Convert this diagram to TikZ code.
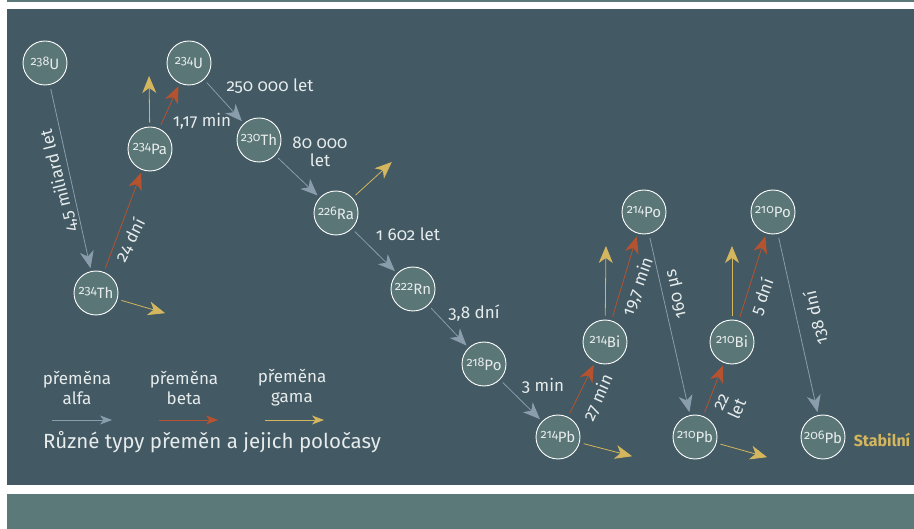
\documentclass[tikz,border=0pt]{standalone}
\usepackage{fontspec}
\setmainfont[Numbers=OldStyle]{Fira Sans}
\usetikzlibrary{arrows.meta}
\definecolor{bgdark}{HTML}{435963}
\definecolor{bgband}{HTML}{5B7979}
\definecolor{nucfill}{HTML}{5A7676}
\definecolor{alfacol}{HTML}{8A9DAC}
\definecolor{betacol}{HTML}{B5522F}
\definecolor{gamacol}{HTML}{D3B65E}
\definecolor{txtcol}{HTML}{E6EBEC}
\newcommand{\iso}[2]{\raisebox{4pt}{\fontsize{12.5}{12.5}\selectfont #1}{\fontsize{15}{15}\selectfont #2}}
\tikzstyle{nuclide}=[%
	draw=white,
	line width=0.9pt,
	circle,
	fill=nucfill,
	minimum size=44pt,
	inner sep=0pt,
	text=txtcol,
	]
\tikzstyle{decay}=[line width=0.8pt, shorten >=3pt, shorten <=4pt, -{Stealth[length=17pt,width=14pt,inset=5pt]}]
\tikzstyle{alfa}=[decay, draw=alfacol]
\tikzstyle{beta}=[decay, draw=betacol]
\tikzstyle{gama}=[decay, draw=gamacol]
\tikzstyle{legarrow}=[line width=0.8pt, -{Stealth[length=12pt,width=9pt,inset=3.5pt]}]
\tikzstyle{halflife}=[text=txtcol, font=\fontsize{17}{18}\selectfont, inner sep=0pt, align=center]
\tikzstyle{legtext}=[text=txtcol, font=\fontsize{17}{20}\selectfont, inner sep=0pt, align=center]

\begin{document}
\begin{tikzpicture}[x=1pt,y=-1pt]%
  \useasboundingbox (0,0) rectangle (914,529);
  % panels
  \fill[white] (0,0) rectangle (914,529);
  \fill[bgband] (7,0) rectangle (914,2.5);
  \fill[bgdark] (7,9) rectangle (914,485.5);
  \fill[bgband] (7,494) rectangle (914,529);

  % nuclides
  \node[nuclide] (u238) at (45,63) {\iso{238}{U}};
  \node[nuclide] (th234) at (96,293) {\iso{234}{Th}};
  \node[nuclide] (pa234) at (150,149) {\iso{234}{Pa}};
  \node[nuclide] (u234) at (189,63) {\iso{234}{U}};
  \node[nuclide] (th230) at (259,140) {\iso{230}{Th}};
  \node[nuclide] (ra226) at (336,213) {\iso{226}{Ra}};
  \node[nuclide] (rn222) at (413,289) {\iso{222}{Rn}};
  \node[nuclide] (po218) at (484,364) {\iso{218}{Po}};
  \node[nuclide] (pb214) at (558,437) {\iso{214}{Pb}};
  \node[nuclide] (bi214) at (605,342) {\iso{214}{Bi}};
  \node[nuclide] (po214) at (644,212) {\iso{214}{Po}};
  \node[nuclide] (pb210) at (695,437) {\iso{210}{Pb}};
  \node[nuclide] (bi210) at (732,342) {\iso{210}{Bi}};
  \node[nuclide] (po210) at (773,212) {\iso{210}{Po}};
  \node[nuclide] (pb206) at (823,437) {\iso{206}{Pb}};

  % free ends of the gamma arrows
  \coordinate (g1) at (168,314);
  \coordinate (g2) at (149,73);
  \coordinate (g3) at (394,160);
  \coordinate (g4) at (635,457);
  \coordinate (g5) at (606,243);
  \coordinate (g6) at (770,458);
  \coordinate (g7) at (732,243);

  \draw[alfa] (u238) -- (th234);
  \draw[beta] (th234) -- (pa234);
  \draw[beta] (pa234) -- (u234);
  \draw[alfa] (u234) -- (th230);
  \draw[alfa] (th230) -- (ra226);
  \draw[alfa] (ra226) -- (rn222);
  \draw[alfa] (rn222) -- (po218);
  \draw[alfa] (po218) -- (pb214);
  \draw[beta] (pb214) -- (bi214);
  \draw[beta] (bi214) -- (po214);
  \draw[alfa] (po214) -- (pb210);
  \draw[beta] (pb210) -- (bi210);
  \draw[beta] (bi210) -- (po210);
  \draw[alfa] (po210) -- (pb206);

  \draw[gama] (th234) -- (g1);
  \draw[gama] (pa234) -- (g2);
  \draw[gama] (ra226) -- (g3);
  \draw[gama] (pb214) -- (g4);
  \draw[gama] (bi214) -- (g5);
  \draw[gama] (pb210) -- (g6);
  \draw[gama] (bi210) -- (g7);

  % half-lives
  \node[halflife, rotate=104] (t1) at (59,181) {4,5 miliard let};
  \node[halflife, rotate=63] (t2) at (130,240) {24 dní};
  \node[halflife] (t3) at (202,121) {1,17 min};
  \node[halflife] (t4) at (270,86) {250 000 let};
  \node[halflife] (t5) at (320,152) {80 000\\let};
  \node[halflife] (t6) at (408,234) {1 602 let};
  \node[halflife] (t7) at (474,313) {3,8 dní};
  \node[halflife] (t8) at (543,386) {3 min};
  \node[halflife, rotate=66] (t9) at (598,398) {27 min};
  \node[halflife, rotate=70] (t10) at (638,287) {19,7 min};
  \node[halflife, rotate=103] (t11) at (677,294) {160 μs};
  \node[halflife, rotate=66] (t12) at (730,406) {22\\let};
  \node[halflife, rotate=70] (t13) at (762,297) {5 dní};
  \node[halflife, rotate=103] (t14) at (816,318) {138 dní};
  \node[halflife, text=gamacol, font=\fontsize{16}{17}\selectfont\bfseries] (stab) at (882,440) {Stabilní};

  % legend
  \node[legtext] (leg1) at (77,388) {přeměna\\alfa};
  \node[legtext] (leg2) at (184,388) {přeměna\\beta};
  \node[legtext] (leg3) at (292,388) {přeměna\\gama};
  \coordinate (la1) at (52,420); \coordinate (la2) at (112,420);
  \coordinate (lb1) at (159,420); \coordinate (lb2) at (218,420);
  \coordinate (lc1) at (265,420); \coordinate (lc2) at (324,420);
  \draw[legarrow, draw=alfacol] (la1) -- (la2);
  \draw[legarrow, draw=betacol] (lb1) -- (lb2);
  \draw[legarrow, draw=gamacol] (lc1) -- (lc2);
  \node[text=txtcol, font=\fontsize{20.5}{22}\selectfont, inner sep=0pt] (title) at (212,442) {Různé typy přeměn a jejich poločasy};
\end{tikzpicture}
\end{document}
